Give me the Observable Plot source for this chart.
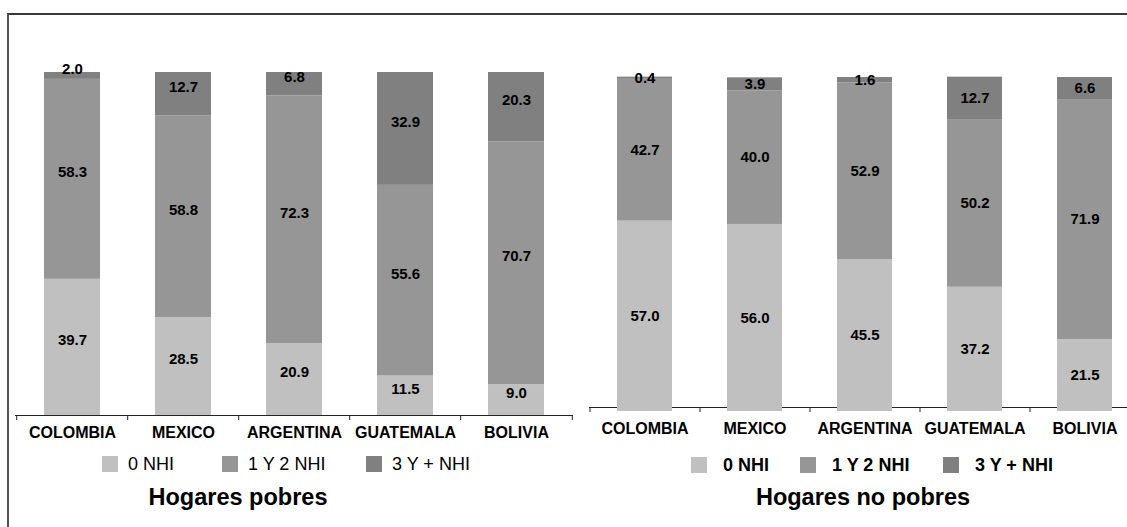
<!DOCTYPE html>
<html>
<head>
<meta charset="utf-8">
<script src="https://cdn.jsdelivr.net/npm/d3@7"></script>
<script src="https://cdn.jsdelivr.net/npm/@observablehq/plot@0.6"></script>
<style>
  html, body { margin: 0; padding: 0; background: #fff; overflow: hidden; }
  #wrap { position: absolute; left: 0; top: 0; width: 1127px; height: 527px; overflow: hidden;
          font-family: "Liberation Sans", Arial, sans-serif; background: #fff; }
  #frame { position: absolute; left: 7px; top: 13px; width: 1200px; height: 600px;
           border-top: 2px solid #3a3a3a; border-left: 2px solid #555; }
  .panel { position: absolute; top: 0; width: 580px; height: 445px; }
  .panel svg { overflow: visible; max-width: none !important; }
  .leg { position: absolute; display: flex; align-items: center; font-size: 18px; line-height: 1; color: #000; white-space: nowrap; }
  .sw { width: 16px; height: 16px; display: inline-block; }
  .title { position: absolute; font-weight: bold; font-size: 23.5px; line-height: 1; transform: translateX(-50%); white-space: nowrap; color: #000; }
</style>
</head>
<body>
<div id="wrap"><div id="frame"></div></div>
<script>
const countries = ["COLOMBIA", "MEXICO", "ARGENTINA", "GUATEMALA", "BOLIVIA"];
const series = ["0 NHI", "1 Y 2 NHI", "3 Y + NHI"];
const pobres0 = [39.7, 28.5, 20.9, 11.5, 9.0];
const pobres12 = [58.3, 58.8, 72.3, 55.6, 70.7];
const pobres3 = [2.0, 12.7, 6.8, 32.9, 20.3];
const noPobres0 = [57.0, 56.0, 45.5, 37.2, 21.5];
const noPobres12 = [42.7, 40.0, 52.9, 50.2, 71.9];
const noPobres3 = [0.4, 3.9, 1.6, 12.7, 6.6];
const titles = ["Hogares pobres", "Hogares no pobres"];

const colors = ["#c0c0c0", "#969696", "#808080"];

function rows(a0, a12, a3) {
  const out = [];
  countries.forEach((c, i) => {
    [a0, a12, a3].forEach((arr, k) => out.push({country: c, series: series[k], value: arr[i]}));
  });
  return out;
}

function panel(cfg) {
  const data = rows(...cfg.values);
  const plotW = cfg.width - cfg.marginLeft - cfg.marginRight;
  const step = plotW / countries.length;
  const chart = Plot.plot({
    width: cfg.width,
    height: cfg.height,
    marginTop: cfg.marginTop,
    marginBottom: cfg.marginBottom,
    marginLeft: cfg.marginLeft,
    marginRight: cfg.marginRight,
    style: {fontFamily: "'Liberation Sans', Arial, sans-serif", fontWeight: "bold", color: "#000", background: "transparent"},
    x: {domain: countries, paddingInner: 0.5, paddingOuter: 0.25, axis: null, label: null},
    y: {domain: [0, 100], axis: null, label: null},
    color: {domain: series, range: colors, legend: false},
    marks: [
      Plot.ruleY([0], {stroke: "#222", strokeWidth: 1, dy: cfg.ruleDy}),
      Plot.ruleX(countries, {x: d => d, y1: 0, y2: 0, dx: -step / 2, insetTop: cfg.ruleDy, insetBottom: cfg.tickBottom, stroke: "#222"}),
      Plot.ruleX(countries.slice(-1), {x: d => d, y1: 0, y2: 0, dx: step / 2, insetTop: cfg.ruleDy, insetBottom: cfg.tickBottom, stroke: "#222"}),
      Plot.barY(data, {x: "country", y: "value", fill: "series"}),
      Plot.text(data, Plot.stackY({x: "country", y: "value", z: "series", text: d => d.value.toFixed(1), fontSize: 15, fontWeight: "bold", fill: "#000", dy: cfg.labelDy})),
      Plot.axisX({tickSize: 0, tickPadding: 11, fontSize: 16, fontWeight: "bold", fill: "#000", label: null})
    ]
  });
  const div = document.createElement("div");
  div.className = "panel";
  div.style.left = cfg.left + "px";
  div.appendChild(chart);
  document.getElementById("wrap").appendChild(div);

  series.forEach((s, k) => {
    const item = document.createElement("div");
    item.className = "leg";
    item.style.left = cfg.legendX[k] + "px";
    item.style.top = cfg.legendTop + "px";
    item.style.fontWeight = cfg.legendWeight;
    const sw = document.createElement("span");
    sw.className = "sw";
    sw.style.background = colors[k];
    sw.style.marginRight = cfg.legendGap + "px";
    const tx = document.createElement("span");
    tx.textContent = s;
    item.appendChild(sw);
    item.appendChild(tx);
    document.getElementById("wrap").appendChild(item);
  });

  const t = document.createElement("div");
  t.className = "title";
  t.textContent = cfg.title;
  t.style.left = cfg.titleX + "px";
  t.style.top = "486px";
  document.getElementById("wrap").appendChild(t);
}

panel({
  values: [pobres0, pobres12, pobres3],
  left: 0, width: 580, height: 445,
  marginTop: 72, marginBottom: 30, marginLeft: 15, marginRight: 7,
  ruleDy: 0, tickBottom: -5, labelDy: -7,
  legendX: [102, 222, 366], legendTop: 455, legendGap: 10, legendWeight: "normal",
  title: titles[0], titleX: 238
});

panel({
  values: [noPobres0, noPobres12, noPobres3],
  left: 575, width: 580, height: 445,
  marginTop: 77, marginBottom: 34, marginLeft: 14, marginRight: 16,
  ruleDy: -4, tickBottom: -1, labelDy: 0,
  legendX: [691, 800, 943], legendTop: 456, legendGap: 16, legendWeight: "bold",
  title: titles[1], titleX: 863
});
</script>
</body>
</html>
